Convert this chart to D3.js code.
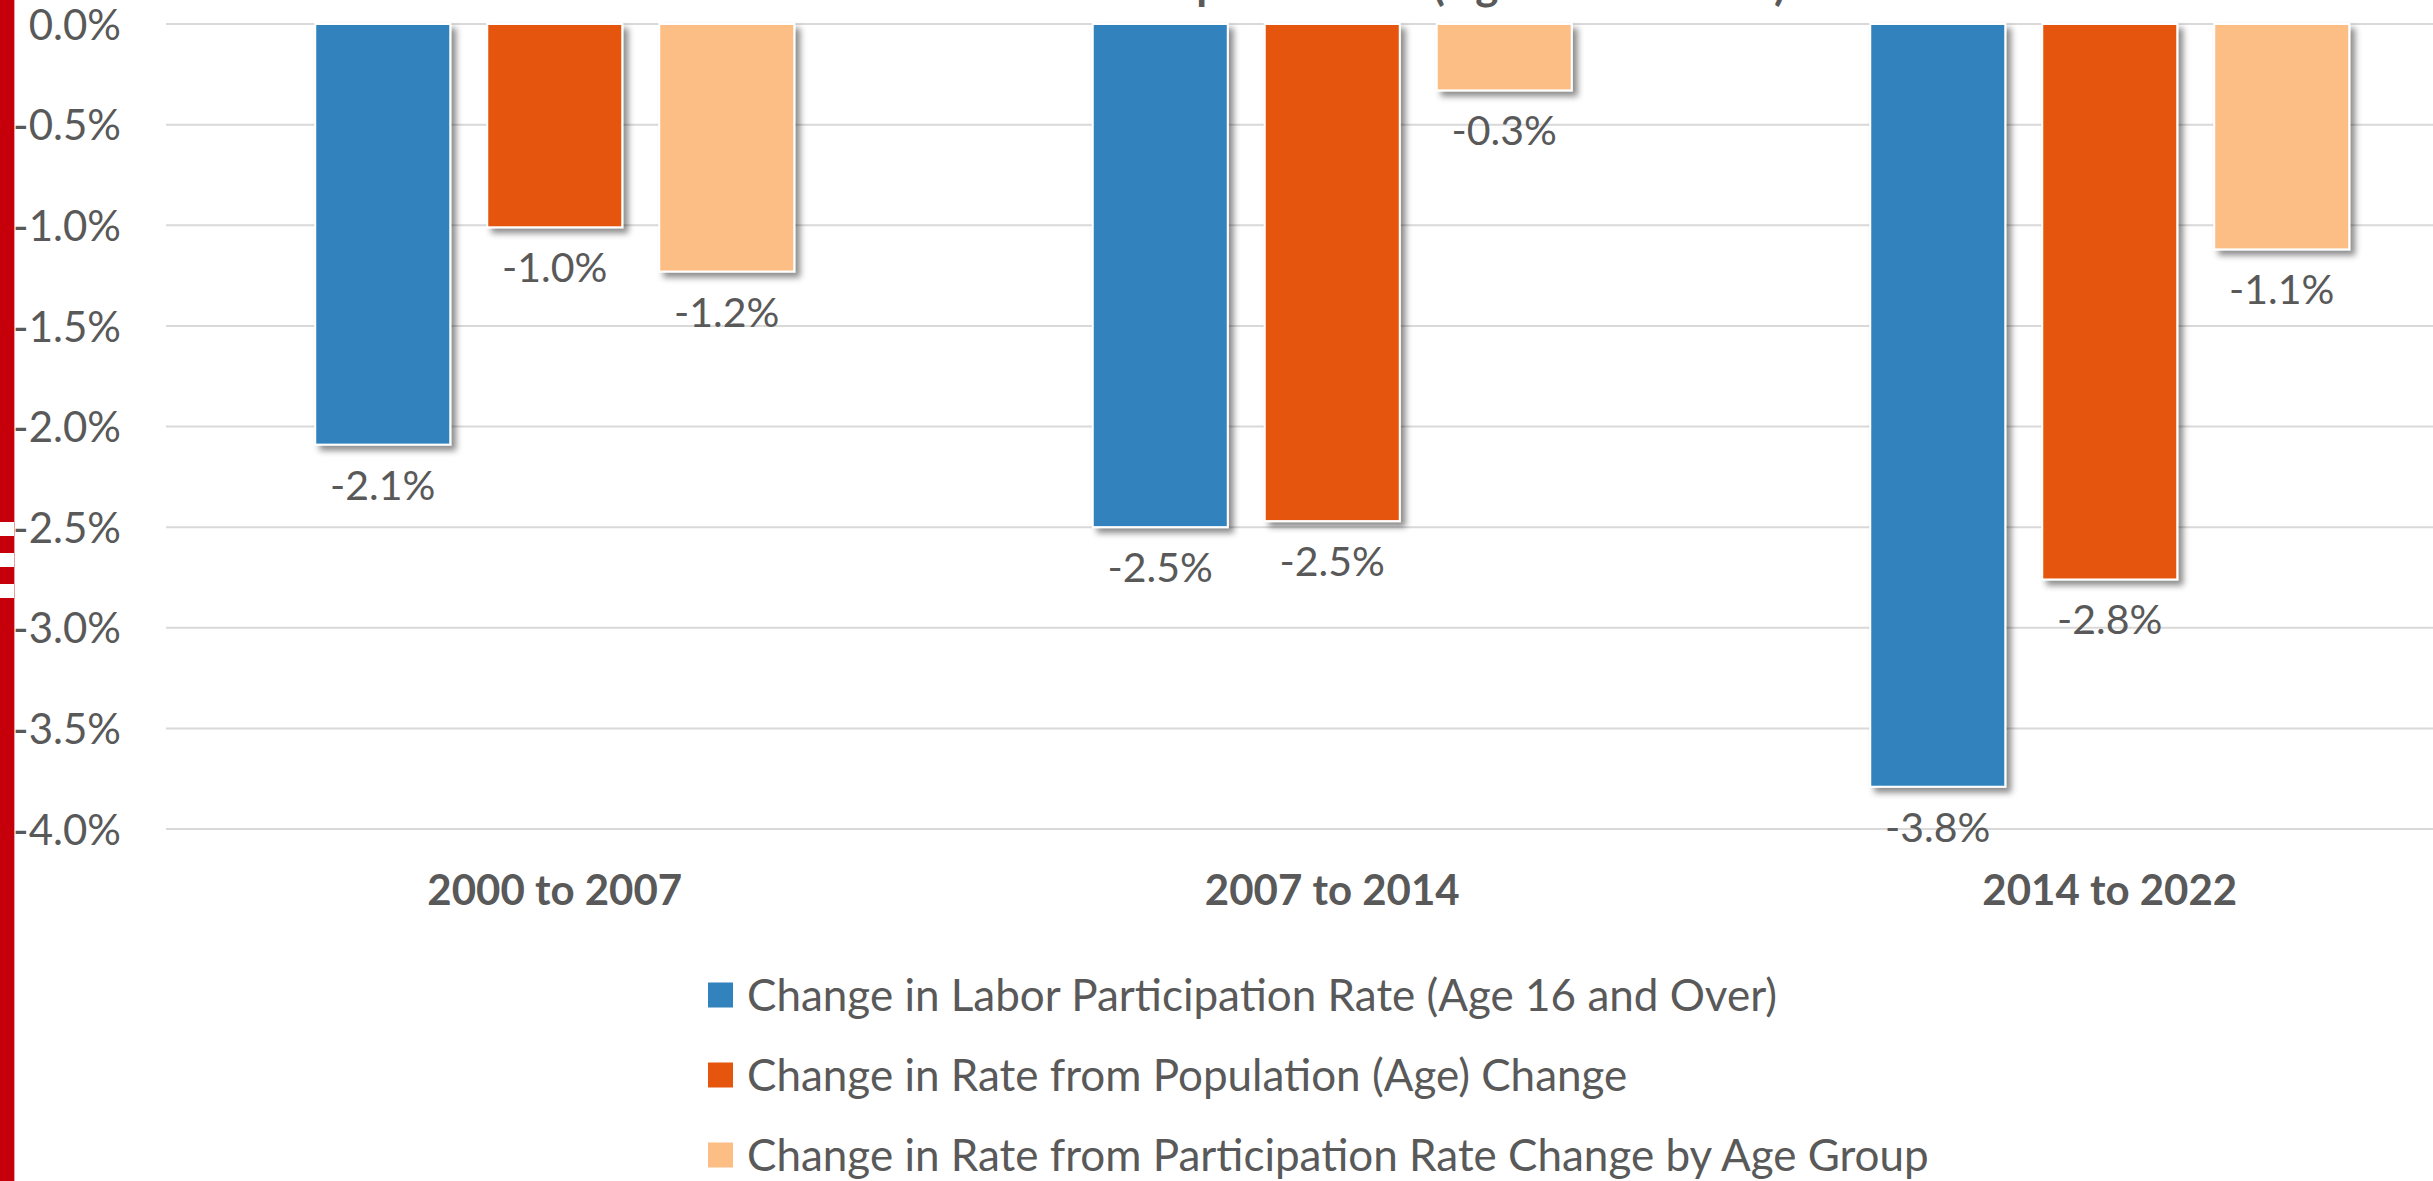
<!DOCTYPE html>
<meta charset="utf-8">
<style>
body {
  margin: 0;
  overflow: hidden;
  background: #fff;
}
text {
  font-family: Lato, "Open Sans", sans-serif;
  fill: #595959;
}
.grid line {
  stroke: #d9d9d9;
  stroke-width: 2;
}
</style>
<svg id="svg" width="2433" height="1181">
  <defs>
    <filter id="shadow" x="-20%" y="-20%" width="150%" height="150%">
      <feDropShadow dx="5" dy="5" stdDeviation="3" flood-color="#000" flood-opacity="0.45"></feDropShadow>
    </filter>
  </defs>
</svg>
<script src="https://d3js.org/d3.v7.min.js"></script>
<script>

var categories = ["2000 to 2007", "2007 to 2014", "2014 to 2022"];
var seriesNames = [
  "Change in Labor Participation Rate (Age 16 and Over)",
  "Change in Rate from Population (Age) Change",
  "Change in Rate from Participation Rate Change by Age Group"
];
var seriesColors = ["#3182bd", "#e6550d", "#fdbe85"];
var laborRate = [-2.09, -2.50, -3.79];
var populationChange = [-1.01, -2.47, -2.76];
var ageGroupChange = [-1.23, -0.33, -1.12];
var yTicks = [0, -0.5, -1, -1.5, -2, -2.5, -3, -3.5, -4];
var titleText = "Labor Force Participation Rate (Age 16 and Over)";

var seriesValues = [laborRate, populationChange, ageGroupChange];

var svg = d3.select("svg");

// red strip on the left edge
svg.append("rect").attr("x", 0).attr("y", 0).attr("width", 14).attr("height", 1181).attr("fill", "#c5000b");
svg.append("rect").attr("x", 14).attr("y", 0).attr("width", 1).attr("height", 1181).attr("fill", "#e9a0a4");
[522, 553, 584].forEach(function(y) {
  svg.append("rect").attr("x", 0).attr("y", y).attr("width", 14).attr("height", 14).attr("fill", "#fff");
});

var x0 = d3.scaleBand()
    .domain(categories)
    .range([166, 166 + 3 * 777.5]);

var x1 = d3.scaleBand()
    .domain(d3.range(3))
    .range([0, 479])
    .paddingInner(0.215);

var y = d3.scaleLinear()
    .domain([-4, 0])
    .range([829, 24]);

// gridlines
svg.append("g")
    .attr("class", "grid")
  .selectAll("line")
  .data(yTicks)
  .enter().append("line")
    .attr("x1", 166)
    .attr("x2", 2433)
    .attr("y1", function(d) { return y(d); })
    .attr("y2", function(d) { return y(d); });

// y axis labels
var yAxis = svg.append("g")
    .attr("transform", "translate(121,0)")
    .call(d3.axisLeft(y).tickValues(yTicks).tickSize(0).tickPadding(0)
      .tickFormat(function(d) { return d.toFixed(1) + "%"; }));
yAxis.select(".domain").remove();
yAxis.selectAll("text")
    .attr("font-size", 42)
    .attr("font-family", "Lato, sans-serif")
    .attr("fill", "#595959")
    .attr("dy", "0.36em");

// title (cut off by the top edge, as in the source image)
svg.append("text")
    .attr("x", 1786)
    .attr("y", 0)
    .attr("text-anchor", "end")
    .attr("font-size", 44)
    .attr("font-weight", "bold")
    .text(titleText);

var rows = [];
categories.forEach(function(c, i) {
  seriesValues.forEach(function(vals, s) {
    rows.push({cat: c, s: s, value: vals[i]});
  });
});

var groups = svg.append("g");

groups.selectAll("rect")
  .data(rows)
  .enter().append("rect")
    .attr("x", function(d) { return x0(d.cat) + (x0.bandwidth() - 479) / 2 + x1(d.s); })
    .attr("y", y(0))
    .attr("width", x1.bandwidth())
    .attr("height", function(d) { return y(d.value) - y(0); })
    .attr("fill", function(d) { return seriesColors[d.s]; })
    .attr("stroke", "#fff")
    .attr("stroke-width", 2)
    .attr("filter", "url(#shadow)");

groups.selectAll("text.val")
  .data(rows)
  .enter().append("text")
    .attr("class", "val")
    .attr("x", function(d) { return x0(d.cat) + (x0.bandwidth() - 479) / 2 + x1(d.s) + x1.bandwidth() / 2; })
    .attr("y", function(d) { return y(d.value) + 55; })
    .attr("text-anchor", "middle")
    .attr("font-size", 41)
    .text(function(d) { return d.value.toFixed(1) + "%"; });

// category labels
svg.append("g")
  .selectAll("text")
  .data(categories)
  .enter().append("text")
    .attr("x", function(d) { return x0(d) + x0.bandwidth() / 2; })
    .attr("y", 905)
    .attr("text-anchor", "middle")
    .attr("font-size", 42)
    .attr("font-weight", "bold")
    .text(function(d) { return d; });

// legend
var legend = svg.append("g")
  .selectAll("g")
  .data(seriesNames)
  .enter().append("g")
    .attr("transform", function(d, i) { return "translate(708," + (995 + i * 80) + ")"; });

legend.append("rect")
    .attr("x", 0)
    .attr("y", -12.5)
    .attr("width", 25)
    .attr("height", 25)
    .attr("fill", function(d, i) { return seriesColors[i]; });

legend.append("text")
    .attr("x", 39)
    .attr("y", 0)
    .attr("dy", "0.36em")
    .attr("font-size", 44)
    .text(function(d) { return d; });

</script>
